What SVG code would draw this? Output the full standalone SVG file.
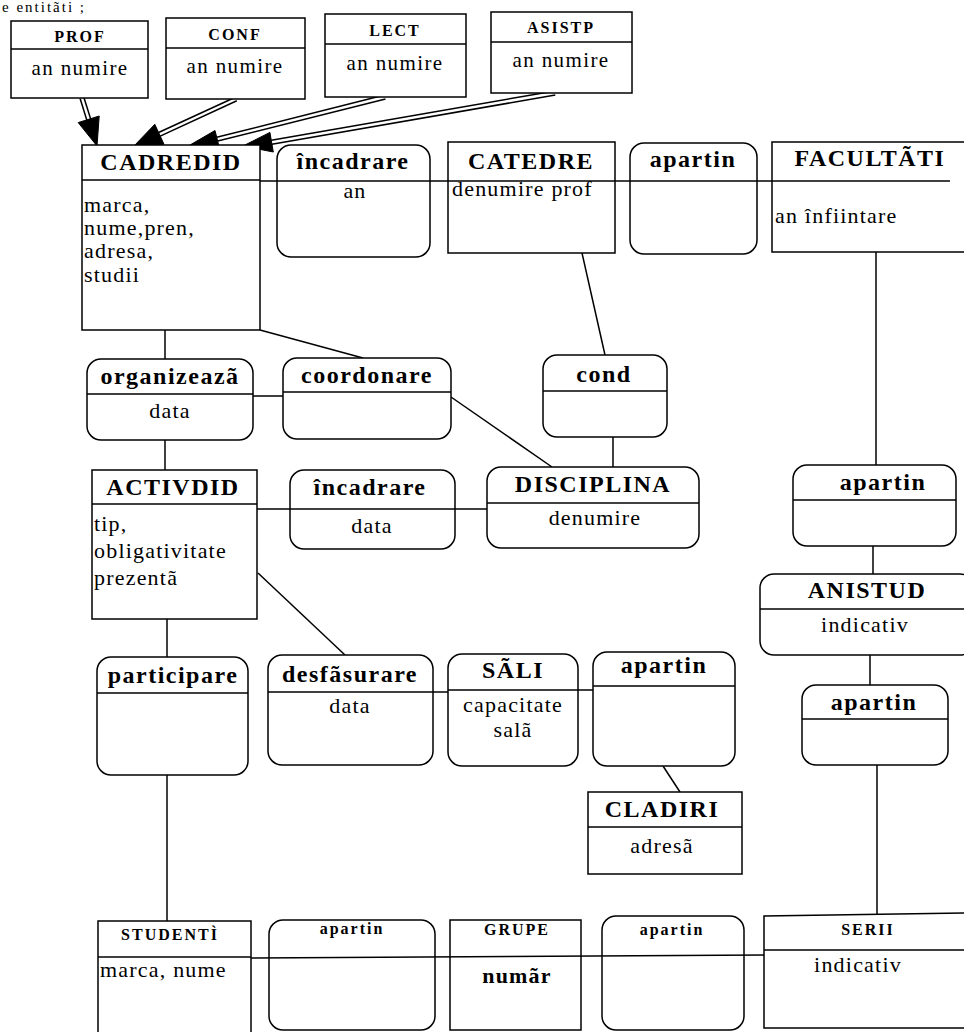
<svg xmlns="http://www.w3.org/2000/svg" width="964" height="1032" viewBox="0 0 964 1032">
  <style>
    .ln { fill: none; stroke: #000; stroke-width: 1.5; }
    .bx { fill: #fff; stroke: #000; stroke-width: 1.5; }
    .t  { font-family: "Liberation Serif", "Times New Roman", serif; fill: #000; }
    .h  { font-size: 24px; font-weight: bold; letter-spacing: 1.5px; text-anchor: middle; }
    .hs { font-size: 16px; font-weight: bold; letter-spacing: 2px; text-anchor: middle; }
    .b  { font-size: 22px; letter-spacing: 1.2px; }
    .bc { font-size: 22px; letter-spacing: 1.2px; text-anchor: middle; }
    .bs { font-size: 21px; letter-spacing: 1.4px; text-anchor: middle; }
    .head { fill: #000; stroke: #000; stroke-width: 1; }
  </style>

  <!-- line of text at the top edge -->
  <text class="t" x="2" y="12" font-size="15" letter-spacing="2">e entitãti ;</text>

  <!-- connectors -->
  <g id="connectors">
    <!-- generalisation arrows: double shafts + filled heads -->
    <line class="ln" x1="80.1" y1="98.6" x2="86.8" y2="119.9"/>
    <line class="ln" x1="83.9" y1="97.4" x2="90.6" y2="118.7"/>
    <polygon class="head" points="97,146 99.2,116 78.2,122.6"/>

    <line class="ln" x1="235.2" y1="97.2" x2="158.6" y2="132.5"/>
    <line class="ln" x1="236.8" y1="100.8" x2="160.2" y2="136.1"/>
    <polygon class="head" points="134,146 154.8,124.3 164,144.3"/>

    <line class="ln" x1="384.5" y1="95.1" x2="216.7" y2="137.3"/>
    <line class="ln" x1="385.5" y1="98.9" x2="217.7" y2="141.1"/>
    <polygon class="head" points="190,145 215,130.5 219.4,147.9"/>

    <line class="ln" x1="554.7" y1="91.0" x2="271.3" y2="140.2"/>
    <line class="ln" x1="555.3" y1="95.0" x2="271.9" y2="144.2"/>
    <polygon class="head" points="243,146 269.9,132.4 273.3,152"/>

    <!-- top row association line -->
    <line class="ln" x1="260" y1="181" x2="950" y2="181"/>
    <line class="ln" x1="876" y1="252" x2="876" y2="465"/>

    <line class="ln" x1="165" y1="330" x2="165" y2="359"/>
    <line class="ln" x1="260" y1="330" x2="363" y2="358"/>
    <line class="ln" x1="253" y1="396" x2="283" y2="396"/>
    <line class="ln" x1="451" y1="397" x2="552" y2="467"/>
    <line class="ln" x1="582" y1="253" x2="605" y2="355"/>
    <line class="ln" x1="613" y1="437" x2="613" y2="467"/>

    <line class="ln" x1="165" y1="440" x2="165" y2="470"/>
    <line class="ln" x1="257" y1="509" x2="487" y2="509"/>

    <line class="ln" x1="873" y1="546" x2="873" y2="574"/>
    <line class="ln" x1="870" y1="655" x2="870" y2="685"/>
    <line class="ln" x1="877" y1="757" x2="877" y2="914"/>

    <line class="ln" x1="167" y1="619" x2="167" y2="657"/>
    <line class="ln" x1="258" y1="573" x2="345" y2="655"/>
    <line class="ln" x1="433" y1="692" x2="448" y2="692"/>
    <line class="ln" x1="578" y1="690" x2="593" y2="690"/>
    <line class="ln" x1="663" y1="766" x2="680" y2="792"/>
    <line class="ln" x1="167" y1="775" x2="167" y2="921"/>

    <!-- bottom row association line -->
    <line class="ln" x1="251" y1="958" x2="764" y2="955"/>
  </g>

  <!-- specialised entities -->
  <g id="prof">
    <rect class="bx" x="11" y="21" width="137" height="77"/>
    <line class="ln" x1="11" y1="49" x2="148" y2="49"/>
    <text class="t hs" x="80" y="42">PROF</text>
    <text class="t bs" x="80" y="75">an numire</text>
  </g>
  <g id="conf">
    <rect class="bx" x="166" y="18" width="139" height="81"/>
    <line class="ln" x1="166" y1="48" x2="305" y2="48"/>
    <text class="t hs" x="235" y="40">CONF</text>
    <text class="t bs" x="235" y="73">an numire</text>
  </g>
  <g id="lect">
    <rect class="bx" x="325" y="14" width="141" height="83"/>
    <line class="ln" x1="325" y1="44" x2="466" y2="44"/>
    <text class="t hs" x="395" y="36">LECT</text>
    <text class="t bs" x="395" y="70">an numire</text>
  </g>
  <g id="asistp">
    <rect class="bx" x="491" y="12" width="141" height="81"/>
    <line class="ln" x1="491" y1="42" x2="632" y2="42"/>
    <text class="t hs" x="561" y="33">ASISTP</text>
    <text class="t bs" x="561" y="67">an numire</text>
  </g>

  <!-- row 1 -->
  <g id="cadredid">
    <rect class="bx" x="82" y="145" width="178" height="185"/>
    <line class="ln" x1="82" y1="180" x2="260" y2="180"/>
    <text class="t h" x="171" y="170">CADREDID</text>
    <text class="t b" x="84" y="212">marca,</text>
    <text class="t b" x="84" y="235">nume,pren,</text>
    <text class="t b" x="84" y="258">adresa,</text>
    <text class="t b" x="84" y="282">studii</text>
  </g>
  <g id="incadrare-an">
    <rect class="ln" x="277" y="145" width="153" height="112" rx="14"/>
    <text class="t h" x="353" y="169">încadrare</text>
    <text class="t bc" x="355" y="198">an</text>
  </g>
  <g id="catedre">
    <rect class="ln" x="448" y="142" width="167" height="111"/>
    <text class="t h" x="531" y="169">CATEDRE</text>
    <text class="t b" x="452" y="196">denumire prof</text>
  </g>
  <g id="apartin-fac">
    <rect class="ln" x="630" y="143" width="127" height="111" rx="14"/>
    <text class="t h" x="693" y="167">apartin</text>
  </g>
  <g id="facultati">
    <polyline class="ln" points="964,142 772,142 772,252 964,252"/>
    <text class="t h" x="870" y="166">FACULTÃTI</text>
    <text class="t b" x="775" y="223">an înfiintare</text>
  </g>

  <!-- row 2 -->
  <g id="organizeaza">
    <rect class="bx" x="87" y="359" width="166" height="81" rx="14"/>
    <line class="ln" x1="87" y1="394" x2="253" y2="394"/>
    <text class="t h" x="170" y="384">organizeazã</text>
    <text class="t bc" x="170" y="418">data</text>
  </g>
  <g id="coordonare">
    <rect class="bx" x="283" y="358" width="168" height="81" rx="14"/>
    <line class="ln" x1="283" y1="392" x2="451" y2="392"/>
    <text class="t h" x="367" y="383">coordonare</text>
  </g>
  <g id="cond">
    <rect class="bx" x="543" y="355" width="124" height="82" rx="14"/>
    <line class="ln" x1="543" y1="391" x2="667" y2="391"/>
    <text class="t h" x="604" y="382">cond</text>
  </g>

  <!-- row 3 -->
  <g id="activdid">
    <rect class="bx" x="92" y="470" width="165" height="149"/>
    <line class="ln" x1="92" y1="504" x2="257" y2="504"/>
    <text class="t h" x="173" y="495">ACTIVDID</text>
    <text class="t b" x="94" y="531">tip,</text>
    <text class="t b" x="94" y="558">obligativitate</text>
    <text class="t b" x="94" y="585">prezentã</text>
  </g>
  <g id="incadrare-data">
    <rect class="ln" x="290" y="470" width="165" height="79" rx="14"/>
    <text class="t h" x="370" y="495">încadrare</text>
    <text class="t bc" x="372" y="533">data</text>
  </g>
  <g id="disciplina">
    <rect class="bx" x="487" y="467" width="212" height="81" rx="14"/>
    <line class="ln" x1="487" y1="503" x2="699" y2="503"/>
    <text class="t h" x="593" y="492">DISCIPLINA</text>
    <text class="t bc" x="595" y="525">denumire</text>
  </g>
  <g id="apartin-an">
    <rect class="bx" x="793" y="465" width="163" height="81" rx="14"/>
    <line class="ln" x1="793" y1="500" x2="956" y2="500"/>
    <text class="t h" x="883" y="490">apartin</text>
  </g>
  <g id="anistud">
    <rect class="bx" x="760" y="574" width="214" height="81" rx="14"/>
    <line class="ln" x1="760" y1="609" x2="964" y2="609"/>
    <text class="t h" x="867" y="598">ANISTUD</text>
    <text class="t bc" x="865" y="632">indicativ</text>
  </g>
  <g id="apartin-serii">
    <rect class="bx" x="802" y="685" width="146" height="80" rx="14"/>
    <line class="ln" x1="802" y1="719" x2="948" y2="719"/>
    <text class="t h" x="874" y="710">apartin</text>
  </g>

  <!-- row 4 -->
  <g id="participare">
    <rect class="bx" x="97" y="657" width="151" height="118" rx="14"/>
    <line class="ln" x1="97" y1="693" x2="248" y2="693"/>
    <text class="t h" x="173" y="683">participare</text>
  </g>
  <g id="desfasurare">
    <rect class="bx" x="268" y="655" width="165" height="110" rx="14"/>
    <line class="ln" x1="268" y1="692" x2="433" y2="692"/>
    <text class="t h" x="350" y="682">desfãsurare</text>
    <text class="t bc" x="350" y="713">data</text>
  </g>
  <g id="sali">
    <rect class="bx" x="448" y="654" width="130" height="112" rx="14"/>
    <line class="ln" x1="448" y1="690" x2="578" y2="690"/>
    <text class="t h" x="513" y="678">SÃLI</text>
    <text class="t bc" x="513" y="712">capacitate</text>
    <text class="t bc" x="513" y="737">salã</text>
  </g>
  <g id="apartin-cladiri">
    <rect class="bx" x="593" y="652" width="142" height="114" rx="14"/>
    <line class="ln" x1="593" y1="686" x2="735" y2="686"/>
    <text class="t h" x="664" y="673">apartin</text>
  </g>
  <g id="cladiri">
    <rect class="bx" x="588" y="792" width="154" height="82"/>
    <line class="ln" x1="588" y1="827" x2="742" y2="827"/>
    <text class="t h" x="662" y="817">CLADIRI</text>
    <text class="t bc" x="662" y="853">adresã</text>
  </g>

  <!-- row 5 -->
  <g id="studenti">
    <rect class="ln" x="98" y="921" width="153" height="125"/>
    <line class="ln" x1="98" y1="957" x2="251" y2="957"/>
    <text class="t hs" x="170" y="940">STUDENTÌ</text>
    <text class="t b" x="100" y="977">marca, nume</text>
  </g>
  <g id="apartin-grupe">
    <rect class="ln" x="269" y="920" width="166" height="110" rx="14"/>
    <text class="t hs" x="352" y="934">apartin</text>
  </g>
  <g id="grupe">
    <rect class="ln" x="450" y="920" width="131" height="110"/>
    <text class="t hs" x="517" y="935">GRUPE</text>
    <text class="t bc" x="517" y="983" font-weight="bold">numãr</text>
  </g>
  <g id="apartin-seria">
    <rect class="ln" x="602" y="916" width="142" height="114" rx="14"/>
    <text class="t hs" x="672" y="935">apartin</text>
  </g>
  <g id="serii">
    <polyline class="ln" points="964,913 764,916 764,1028 964,1028"/>
    <line class="ln" x1="764" y1="950" x2="964" y2="950"/>
    <text class="t hs" x="868" y="935">SERII</text>
    <text class="t bc" x="858" y="972">indicativ</text>
  </g>
</svg>
